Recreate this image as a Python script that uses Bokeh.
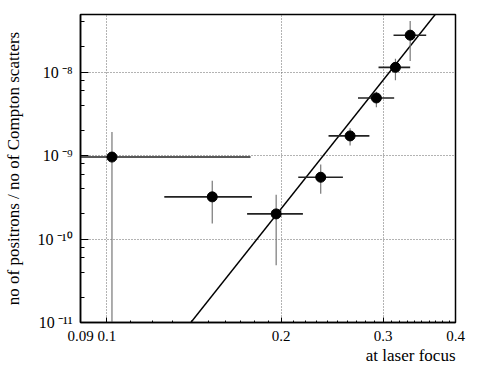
from bokeh.plotting import figure
from bokeh.models import FixedTicker, LogTicker, CustomJSTickFormatter, Title, Range1d
from bokeh.embed import file_html
from bokeh.resources import INLINE

# ---- data ----
energy = [0.102, 0.152, 0.196, 0.234, 0.263, 0.292, 0.315, 0.334]
ratio = [9.6e-10, 3.2e-10, 2.0e-10, 5.5e-10, 1.72e-9, 4.9e-9, 1.14e-8, 2.77e-8]
energy_lo = [0.09, 0.1256, 0.1746, 0.214, 0.2414, 0.2714, 0.2945, 0.3126]
energy_hi = [0.177, 0.178, 0.218, 0.2556, 0.284, 0.3134, 0.334, 0.356]
ratio_lo = [1e-11, 1.53e-10, 4.85e-11, 3.48e-10, 1.32e-9, 3.78e-9, 8.0e-9, 1.36e-8]
ratio_hi = [1.92e-9, 5.0e-10, 3.39e-10, 7.8e-10, 2.12e-9, 5.82e-9, 1.45e-8, 4.1e-8]

fit_x = [0.1396, 0.369]
fit_y = [1e-11, 4.9e-8]

x_ticks = [0.09, 0.1, 0.2, 0.3, 0.4]
x_minor = [0.09 + 0.01 * i for i in range(32)]
y_label = "no of positrons / no of Compton scatters"
x_label = "at laser focus"

FONT = "'Liberation Serif', serif"

p = figure(frame_width=375, frame_height=308, x_axis_type="log", y_axis_type="log",
           x_range=Range1d(0.09, 0.4), y_range=Range1d(1e-11, 4.9e-8),
           output_backend="svg", toolbar_location=None,
           min_border_left=71, min_border_right=25, min_border_top=7,
           min_border_bottom=0)
p.background_fill_color = "white"
p.border_fill_color = "white"
p.outline_line_color = "black"
p.outline_line_width = 1.5

# invisible spacer title to push the frame down
p.title.text = "\u00a0"
p.title.text_font_size = "11px"
p.title.standoff = 0

# grids
for g in (p.xgrid, p.ygrid):
    g.grid_line_color = "#666666"
    g.grid_line_dash = "1 2"
    g.grid_line_width = 1

# x axis
p.xaxis.ticker = FixedTicker(ticks=x_ticks, minor_ticks=x_minor)
p.xaxis.formatter = CustomJSTickFormatter(code="return String(Math.round(tick*100)/100);")
p.xaxis.major_tick_in = 5
p.xaxis.major_tick_out = 0
p.xaxis.minor_tick_in = 2
p.xaxis.minor_tick_out = 0
p.xaxis.axis_line_color = "black"
p.xaxis.axis_line_width = 1.5
p.xaxis.major_label_text_font = FONT
p.xaxis.major_label_text_font_size = "15px"
p.xaxis.major_label_text_color = "black"
p.xaxis.major_label_standoff = 8

# y axis
p.yaxis.ticker = LogTicker(desired_num_ticks=4)
p.yaxis.formatter = CustomJSTickFormatter(code="""
const sup = {'-':'\u207b','0':'\u2070','1':'\u00b9','2':'\u00b2','3':'\u00b3','4':'\u2074',
             '5':'\u2075','6':'\u2076','7':'\u2077','8':'\u2078','9':'\u2079'};
const e = Math.round(Math.log10(tick));
return '10\u2009' + String(e).split('').map(c => sup[c]).join('');
""")
p.yaxis.major_tick_in = 8
p.yaxis.major_tick_out = 0
p.yaxis.minor_tick_in = 4
p.yaxis.minor_tick_out = 0
p.yaxis.axis_line_color = "black"
p.yaxis.axis_line_width = 1.5
p.yaxis.major_label_text_font = FONT
p.yaxis.major_label_text_font_size = "16px"
p.yaxis.major_label_text_color = "black"
p.yaxis.major_label_standoff = 8
p.yaxis.axis_label = y_label
p.yaxis.axis_label_text_font = FONT
p.yaxis.axis_label_text_font_size = "17px"
p.yaxis.axis_label_text_font_style = "normal"
p.yaxis.axis_label_text_color = "black"
p.yaxis.axis_label_standoff = 12

p.add_layout(Title(text=x_label, align="right", text_font=FONT,
                   text_font_size="17px", text_font_style="normal",
                   text_color="black", standoff=0), "below")

# fit line
p.line(fit_x, fit_y, line_color="black", line_width=1.4)

# error bars
p.segment(x0=energy_lo, y0=ratio, x1=energy_hi, y1=ratio,
          line_color="#222222", line_width=1.6)
p.segment(x0=energy, y0=ratio_lo, x1=energy, y1=ratio_hi,
          line_color="#777777", line_width=1.2)

# points
p.scatter(energy, ratio, size=10, marker="circle", fill_color="black",
          line_color="black")

open("out.html", "w").write(file_html(p, INLINE))
